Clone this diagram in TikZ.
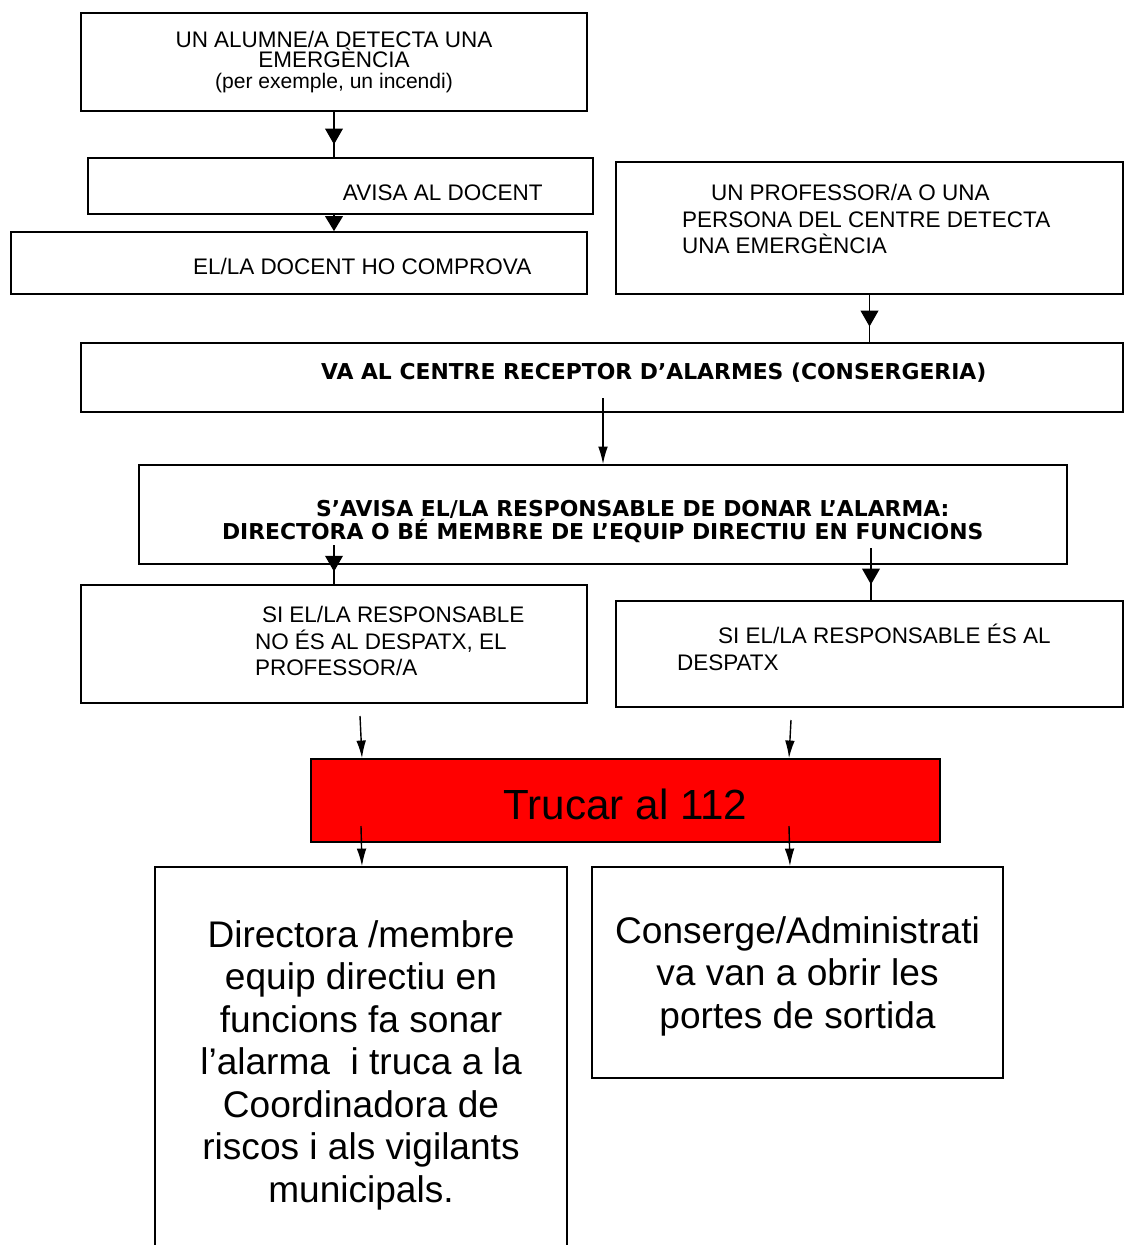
\documentclass[tikz,border=0pt]{standalone}
\usepackage{fontspec}
\setmainfont{Liberation Sans}
\newfontfamily\verdana{DejaVu Sans}
\usetikzlibrary{arrows.meta,decorations.markings}
\newcommand{\lbox}[3]{\begin{minipage}{#1}\vspace*{#2}\raggedright #3\end{minipage}}
\newcommand{\cbox}[3]{\begin{minipage}{#1}\vspace*{#2}\centering #3\end{minipage}}
\tikzset{
    box/.style={draw, rectangle, inner sep=0mm, line width=1pt, font=\fontsize{12.8}{15.3}\selectfont},
    boldbox/.style={box, font=\verdana\bfseries\fontsize{12.45}{13.6}\selectfont},
    bigbox/.style={box, font=\fontsize{21.1}{24.2}\selectfont},
    tri/.style={line width=1pt, -{Triangle[length=8.5pt,width=10pt]}},
    midtri/.style={line width=1pt, postaction={decorate},
        decoration={markings, mark=at position #1 with {\arrow{Triangle[length=9pt,width=10pt]}}}},
    lat/.style={line width=0.8pt, -{Latex[length=10pt,width=5.5pt]}}
}

\begin{document}
\begin{tikzpicture}[x=0.02cm, y=-0.02cm]
    \useasboundingbox (0,0) rectangle (1125,1245);

    \node (alumne) [box, font=\fontsize{12.8}{11.6}\selectfont, minimum width=10.12cm, minimum height=1.96cm] at (334,62) {\cbox{10.12cm}{0cm}{UN ALUMNE/A DETECTA UNA\\EMERGÈNCIA\\{\fontsize{12}{12}\selectfont (per exemple, un incendi)}}};
    \node (avisa) [box, minimum width=10.1cm, minimum height=1.12cm] at (340.5,186) {\lbox{10.1cm}{0.28cm}{\hspace*{5.1cm}AVISA AL DOCENT}};
    \node (comprova) [box, minimum width=11.52cm, minimum height=1.24cm] at (299,263) {\lbox{11.52cm}{0.12cm}{\hspace*{3.64cm}EL/LA DOCENT HO COMPROVA}};
    \node (professor) [box, minimum width=10.14cm, minimum height=2.64cm] at (869.5,228) {\lbox{10.14cm}{-0.36cm}{\hspace*{1.9cm}UN PROFESSOR/A O UNA\\\hspace*{1.32cm}PERSONA DEL CENTRE DETECTA\\\hspace*{1.32cm}UNA EMERGÈNCIA}};

    \node (receptor) [boldbox, minimum width=20.84cm, minimum height=1.38cm] at (602,377.5) {\lbox{20.84cm}{-0.2cm}{\hspace*{4.8cm}VA AL CENTRE RECEPTOR D’ALARMES (CONSERGERIA)}};
    \node (responsable) [boldbox, minimum width=18.56cm, minimum height=1.98cm] at (603,514.5) {\lbox{18.56cm}{0.28cm}{\hspace*{3.54cm}S’AVISA EL/LA RESPONSABLE DE DONAR L’ALARMA:\\\hspace*{1.66cm}DIRECTORA O BÉ MEMBRE DE L’EQUIP DIRECTIU EN FUNCIONS}};

    \node (nodespatx) [box, minimum width=10.12cm, minimum height=2.36cm] at (334,644) {\lbox{10.12cm}{-0.12cm}{\hspace*{3.62cm}SI EL/LA RESPONSABLE\\\hspace*{3.48cm}NO ÉS AL DESPATX, EL\\\hspace*{3.48cm}PROFESSOR/A}};
    \node (despatx) [box, minimum width=10.14cm, minimum height=2.12cm] at (869.5,654) {\lbox{10.14cm}{-0.28cm}{\hspace*{2.04cm}SI EL/LA RESPONSABLE ÉS AL\\\hspace*{1.22cm}DESPATX}};

    \node (trucar) [box, fill=red, font=\fontsize{24}{28}\selectfont, minimum width=12.58cm, minimum height=1.66cm] at (625.5,800.5) {\cbox{12.58cm}{0.16cm}{Trucar al 112}};

    \node (directora) [bigbox, minimum width=8.24cm, minimum height=7.8cm] at (361,1062) {\cbox{8.24cm}{0.12cm}{Directora /membre\\equip directiu en\\funcions fa sonar\\l’alarma\ \ i truca a la\\Coordinadora de\\riscos i als vigilants\\municipals.}};
    \node (conserge) [bigbox, minimum width=8.22cm, minimum height=4.22cm] at (797.5,972.5) {\cbox{8.22cm}{0.14cm}{Conserge/Administrati\\va van a obrir les\\portes de sortida}};

    \coordinate (r1) at (603,398);
    \coordinate (r2) at (334,545);
    \coordinate (r3) at (871,548);
    \coordinate (n1) at (360,716);
    \coordinate (d1) at (791,720);
    \coordinate (t1) at (361,826);
    \coordinate (t2) at (789,826);

    \draw [midtri=0.72] (alumne.south) -- (alumne.south |- avisa.north);
    \draw [tri] (alumne.south |- avisa.south) -- (alumne.south |- comprova.north);
    \draw [midtri=0.67] (professor.south) -- (professor.south |- receptor.north);
    \draw [lat] (r1) -- (r1 |- responsable.north);
    \draw [midtri=0.68] (r2) -- (r2 |- nodespatx.north);
    \draw [midtri=0.70] (r3) -- (r3 |- despatx.north);
    \draw [lat] (n1) -- (trucar.north -| 362,0);
    \draw [lat] (d1) -- (trucar.north -| 789,0);
    \draw [lat] (t1) -- (directora.north -| 362,0);
    \draw [lat] (t2) -- (conserge.north -| 790,0);
\end{tikzpicture}
\end{document}
